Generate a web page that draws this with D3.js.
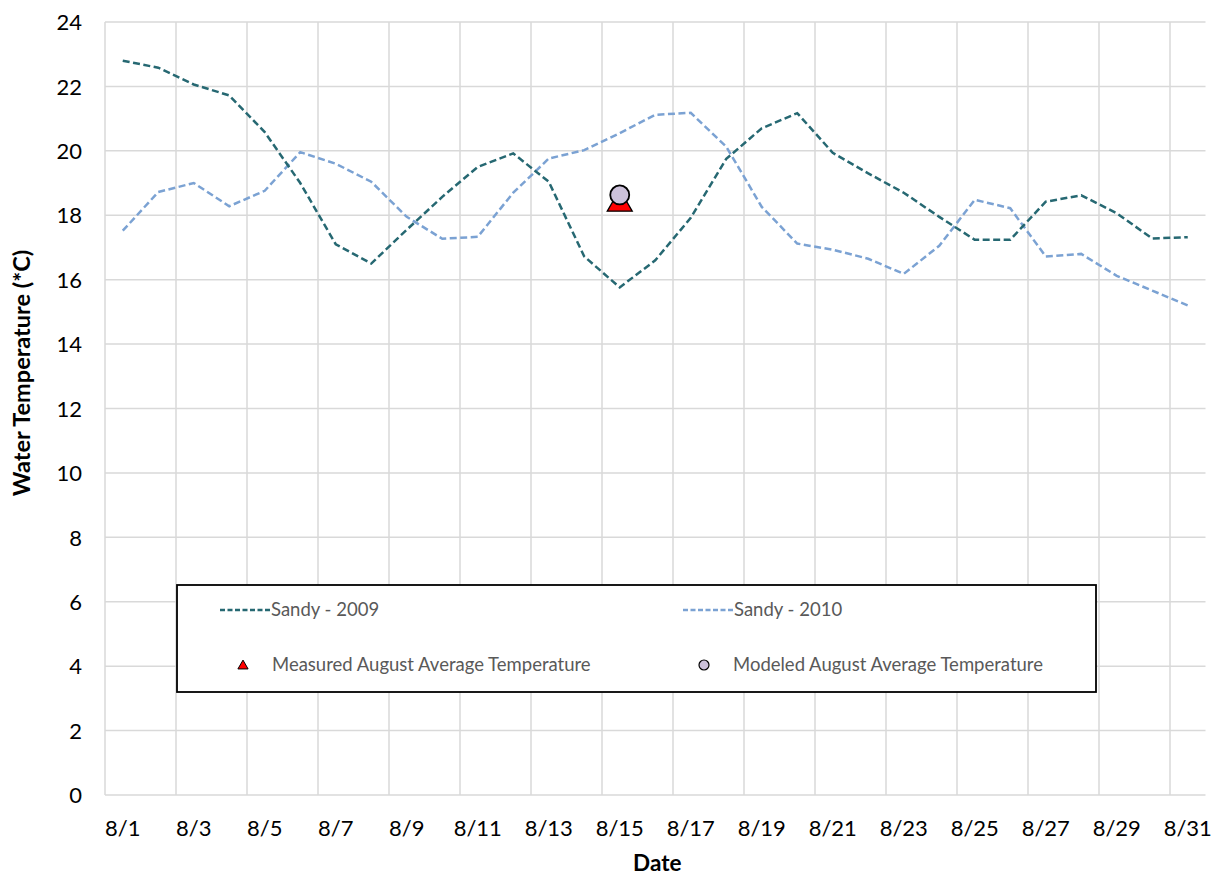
<!DOCTYPE html>
<html>
<head>
<meta charset="utf-8">
<script src="https://cdn.jsdelivr.net/npm/d3@7"></script>
<style>
  body { margin: 0; background: #fff; }
  svg text { font-family: Lato, "Open Sans", sans-serif; }
</style>
</head>
<body>
<div class="chart"></div>
<script>
// dates 8/1 .. 8/31
var dates = d3.range(1, 32).map(function (d) { return "8/" + d; });

var sandy2009 = [22.8, 22.58, 22.06, 21.72, 20.58, 19.0, 17.1, 16.5, 17.55, 18.57,
                 19.5, 19.92, 19.04, 16.72, 15.76, 16.6, 17.92, 19.75, 20.7, 21.17,
                 19.94, 19.3, 18.7, 17.95, 17.24, 17.24, 18.42, 18.62, 18.06, 17.28, 17.32];

var sandy2010 = [17.52, 18.72, 19.0, 18.28, 18.76, 19.96, 19.6, 19.04, 17.95, 17.27,
                 17.33, 18.7, 19.76, 20.02, 20.55, 21.12, 21.18, 20.13, 18.26, 17.12,
                 16.93, 16.65, 16.18, 17.05, 18.48, 18.22, 16.72, 16.8, 16.12, 15.66, 15.2];

var measuredAvg = { date: "8/15", value: 18.35 };
var modeledAvg = { date: "8/15", value: 18.63 };

var yTicks = d3.range(0, 25, 2);
var xLabels = dates.filter(function (d, i) { return i % 2 === 0; });

var svgWidth = 1225;
var svgHeight = 877;
var margin = { top: 22, right: 19.5, bottom: 82, left: 105 };
var width = svgWidth - margin.left - margin.right;
var height = svgHeight - margin.top - margin.bottom;

var dark = "#266872";
var light = "#7ba2d3";

var svg = d3.select(".chart")
    .append("svg")
    .attr("width", svgWidth)
    .attr("height", svgHeight)
    .append("g")
    .attr("transform", `translate(${margin.left},${margin.top})`);

var xScale = d3.scaleBand().domain(dates).range([0, width]).padding(0);
var yScale = d3.scaleLinear().domain([0, 24]).range([height, 0]);
var bw = xScale.bandwidth();
function cx(d) { return xScale(d) + bw / 2; }

// horizontal gridlines
svg.append("g")
    .selectAll("line")
    .data(yTicks)
    .enter()
    .append("line")
    .attr("x1", 0)
    .attr("x2", width)
    .attr("y1", function (d) { return yScale(d); })
    .attr("y2", function (d) { return yScale(d); })
    .attr("stroke", "#d9d9d9")
    .attr("stroke-width", 1.5);

// vertical gridlines every 2 days (category boundaries)
svg.append("g")
    .selectAll("line")
    .data(xLabels)
    .enter()
    .append("line")
    .attr("x1", function (d) { return xScale(d); })
    .attr("x2", function (d) { return xScale(d); })
    .attr("y1", 0)
    .attr("y2", height)
    .attr("stroke", "#d9d9d9")
    .attr("stroke-width", 1.5);

// y axis labels
var yAxis = d3.axisLeft(yScale).tickValues(yTicks).tickSize(0).tickPadding(23);
svg.append("g")
    .attr("class", "y-axis")
    .call(yAxis)
    .call(function (g) { g.select(".domain").remove(); })
    .selectAll("text")
    .attr("font-size", "22px")
    .attr("fill", "#000")
    .attr("dy", "0.35em");

// x axis labels
var xAxis = d3.axisBottom(xScale).tickValues(xLabels).tickSize(0).tickPadding(25);
svg.append("g")
    .attr("class", "x-axis")
    .attr("transform", `translate(0,${height})`)
    .call(xAxis)
    .call(function (g) { g.select(".domain").remove(); })
    .selectAll("text")
    .attr("font-size", "22px")
    .attr("fill", "#000");

// lines
var line = d3.line()
    .x(function (d, i) { return cx(dates[i]); })
    .y(function (d) { return yScale(d); });

svg.append("path")
    .datum(sandy2010)
    .attr("d", line)
    .attr("fill", "none")
    .attr("stroke", light)
    .attr("stroke-width", 2.5)
    .attr("stroke-dasharray", "7,3.5");

svg.append("path")
    .datum(sandy2009)
    .attr("d", line)
    .attr("fill", "none")
    .attr("stroke", dark)
    .attr("stroke-width", 2.5)
    .attr("stroke-dasharray", "7,3.5");

// markers
var triSym = d3.symbol().type(d3.symbolTriangle).size(270);
svg.append("path")
    .attr("d", triSym())
    .attr("transform", `translate(${cx(measuredAvg.date)},${yScale(measuredAvg.value)})`)
    .attr("fill", "#ff0000")
    .attr("stroke", "#000")
    .attr("stroke-width", 1.3);

svg.append("circle")
    .attr("cx", cx(modeledAvg.date))
    .attr("cy", yScale(modeledAvg.value))
    .attr("r", 9.5)
    .attr("fill", "#ccc1da")
    .attr("stroke", "#000")
    .attr("stroke-width", 1.8);

// legend
var legend = svg.append("g")
    .attr("transform", `translate(${177 - margin.left},${585 - margin.top})`);

legend.append("rect")
    .attr("width", 919)
    .attr("height", 107)
    .attr("fill", "#fff")
    .attr("stroke", "#000")
    .attr("stroke-width", 1.8);

function legendLine(x, y, color, label) {
    legend.append("line")
        .attr("x1", x).attr("x2", x + 50)
        .attr("y1", y).attr("y2", y)
        .attr("stroke", color)
        .attr("stroke-width", 2.5)
        .attr("stroke-dasharray", "5,2.5");
    legend.append("text")
        .attr("x", x + 51)
        .attr("y", y)
        .attr("dy", "0.35em")
        .attr("font-size", "18.5px")
        .attr("fill", "#595959")
        .text(label);
}
legendLine(43, 25, dark, "Sandy - 2009");
legendLine(506, 25, light, "Sandy - 2010");

legend.append("path")
    .attr("d", d3.symbol().type(d3.symbolTriangle).size(45)())
    .attr("transform", "translate(66,81)")
    .attr("fill", "#ff0000")
    .attr("stroke", "#000")
    .attr("stroke-width", 1);
legend.append("text")
    .attr("x", 95).attr("y", 80).attr("dy", "0.35em")
    .attr("font-size", "18.5px").attr("fill", "#595959")
    .text("Measured August Average Temperature");

legend.append("circle")
    .attr("cx", 527).attr("cy", 80).attr("r", 5)
    .attr("fill", "#ccc1da")
    .attr("stroke", "#000")
    .attr("stroke-width", 1.2);
legend.append("text")
    .attr("x", 556).attr("y", 80).attr("dy", "0.35em")
    .attr("font-size", "18.5px").attr("fill", "#595959")
    .text("Modeled August Average Temperature");

// axis titles
svg.append("text")
    .attr("x", width / 2 + 2)
    .attr("y", height + 76)
    .attr("text-anchor", "middle")
    .attr("font-size", "22.5px")
    .attr("font-weight", "bold")
    .text("Date");

svg.append("text")
    .attr("transform", `translate(${-margin.left + 30},${373 - margin.top})rotate(-90)`)
    .attr("text-anchor", "middle")
    .attr("font-size", "23.5px")
    .attr("font-weight", "bold")
    .text("Water Temperature (*C)");
</script>
</body>
</html>
